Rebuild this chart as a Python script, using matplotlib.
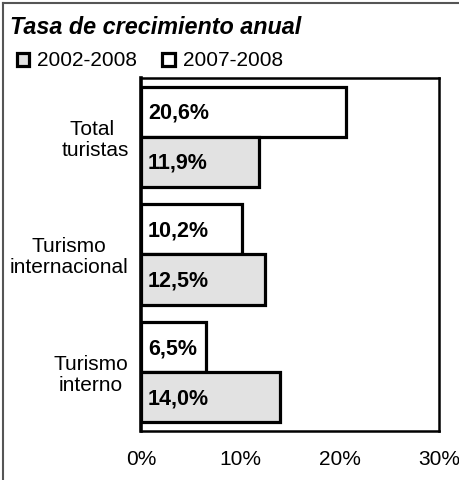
import numpy as np
import matplotlib
matplotlib.use("Agg")
import matplotlib.pyplot as plt
from matplotlib.patches import Patch
from matplotlib.lines import Line2D
from matplotlib.ticker import PercentFormatter

# data
categories = ["Total \nturistas", "Turismo\ninternacional", "Turismo\ninterno"]
series_names = ["2002-2008", "2007-2008"]
v_2002_2008 = [11.9, 12.5, 14.0]
v_2007_2008 = [20.6, 10.2, 6.5]
xticks = [0, 10, 20, 30]

plt.rcParams['font.family'] = ['Liberation Sans', 'DejaVu Sans']

fig = plt.figure(figsize=(4.59, 4.8), dpi=100)
ax = fig.add_axes([0.3072, 0.1021, 0.6492, 0.7354])

gray = '#e2e2e2'
h = 0.425
y = np.arange(len(categories))
b_new = ax.barh(y - h/2, v_2007_2008, height=h, color='white', edgecolor='black', linewidth=2.3)
b_old = ax.barh(y + h/2, v_2002_2008, height=h, color=gray, edgecolor='black', linewidth=2.3)

# labels inside the bars, left side
for bars, vals in [(b_new, v_2007_2008), (b_old, v_2002_2008)]:
    for bar, v in zip(bars, vals):
        lbl = f"{v:.1f}".replace('.', ',') + '%'
        ax.annotate(lbl, xy=(0, bar.get_y() + bar.get_height()/2), xytext=(5, -1),
                    textcoords='offset points', va='center', ha='left',
                    fontsize=15.5, fontweight='bold')

ax.set_xlim(0, 30)
ax.set_ylim(2.5, -0.5)
ax.set_xticks(xticks)
ax.xaxis.set_major_formatter(PercentFormatter(decimals=0))
ax.set_yticks(y)
ax.set_yticklabels(categories, multialignment='center', linespacing=1.12)
ax.tick_params(axis='x', length=0, pad=14, labelsize=15)
ax.tick_params(axis='y', length=0, pad=9, labelsize=15)

ax.spines['left'].set_linewidth(2.6)
for s in ['top', 'right', 'bottom']:
    ax.spines[s].set_linewidth(1.8)

fig.text(0.022, 1 - 27/480, "Tasa de crecimiento anual", fontsize=16.8,
         fontweight='bold', fontstyle='italic', va='center', ha='left')

handles = [Patch(facecolor=gray, edgecolor='black', linewidth=2.3),
           Patch(facecolor='white', edgecolor='black', linewidth=2.3)]
fig.legend(handles, series_names, ncol=2, frameon=False, fontsize=15,
           loc='center left', bbox_to_anchor=(0.036, 1 - 61/480),
           handlelength=0.6, handleheight=0.6, handletextpad=0.4,
           columnspacing=1.2, borderpad=0, borderaxespad=0)

# outer frame (left and top edges visible)
fig.add_artist(Line2D([3/459, 3/459], [0, 1 - 3/480], color='#555555', linewidth=1.5))
fig.add_artist(Line2D([3/459, 1], [1 - 3/480, 1 - 3/480], color='#555555', linewidth=1.5))

fig.savefig("out.png", dpi=100)
